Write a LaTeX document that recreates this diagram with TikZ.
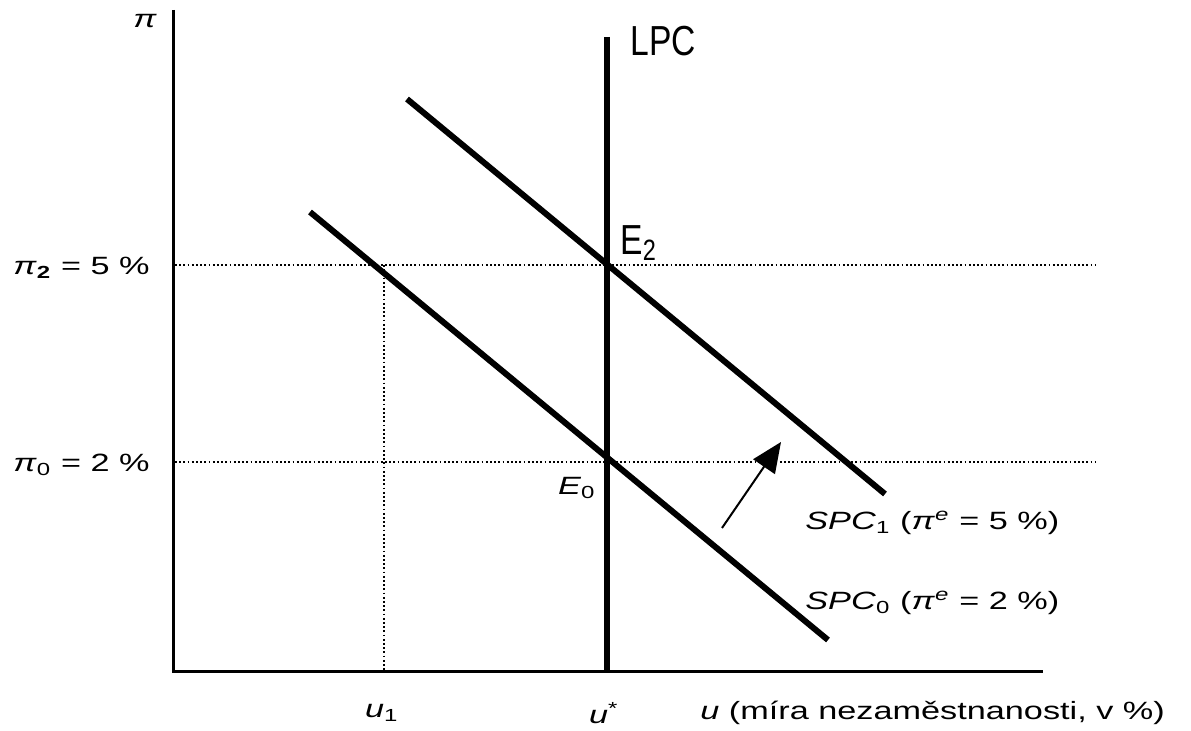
\documentclass[tikz,border=0pt]{standalone}
\usepackage{fontspec}
\setmainfont{Liberation Sans}
\usetikzlibrary{arrows.meta}
\newcommand\wx[1]{\scalebox{1.37}[1]{#1}}
\newcommand\nx[1]{\scalebox{0.8}[1]{#1}}
\newcommand\lo[1]{\textsubscript{#1}}
\newcommand\hi[1]{\textsuperscript{#1}}
\begin{document}
\begin{tikzpicture}[x=0.5pt,y=-0.5pt,
  axis/.style={line width=1.5pt},
  curve/.style={line width=3pt},
  lpcline/.style={line width=2.6pt},
  guide/.style={line width=0.9pt, dash pattern=on 0.9pt off 1.2pt},
  shift arrow/.style={line width=1pt,-{Triangle[length=15pt,width=13pt]}},
  lbl/.style={inner sep=0pt, font=\fontsize{12.5}{14}\selectfont},
  hand/.style={inner sep=0pt, font=\fontsize{21}{24}\selectfont}]
\useasboundingbox (0,0) rectangle (1191,731);
\fill[white] (0,0) rectangle (1191,731);
% points
\coordinate (O) at (173,672);
\coordinate (Ytop) at (173,10);
\coordinate (Xend) at (1043,672);
\coordinate (Ltop) at (607,37);
\coordinate (Lbot) at (607,672);
\coordinate (A1) at (407,99);
\coordinate (B1) at (885,494);
\coordinate (A0) at (310,212);
\coordinate (B0) at (828,640);
\coordinate (P2L) at (175,265);
\coordinate (P2R) at (1095,265);
\coordinate (P0L) at (175,462);
\coordinate (P0R) at (1095,462);
\coordinate (U1T) at (384,265);
\coordinate (U1B) at (384,670);
\coordinate (ArT) at (722,528);
\coordinate (ArH) at (781,442);
% guides
\draw[guide] (P2L) -- (P2R);
\draw[guide] (P0L) -- (P0R);
\draw[guide] (U1T) -- (U1B);
% axes
\draw[axis] (Ytop) -- (O) -- (Xend);
% curves
\draw[lpcline] (Ltop) -- (Lbot);
\draw[curve] (A1) -- (B1);
\draw[curve] (A0) -- (B0);
\draw[shift arrow] (ArT) -- (ArH);
% labels
\node[lbl] (pi) at (145,21) {\wx{\textit{π}}};
\node[lbl, anchor=east] (pi2) at (150,268) {\wx{\textit{π}\lo{\textbf{2}} = 5 \%}};
\node[lbl, anchor=east] (pi0) at (150,465) {\wx{\textit{π}\lo{0} = 2 \%}};
\node[lbl] (E0) at (577,488) {\wx{\textit{E}\lo{0}}};
\node[hand, anchor=west] (E2) at (620,243) {\nx{E\lo{2}}};
\node[hand, anchor=west] (LPC) at (630,41) {\nx{LPC}};
\node[lbl, anchor=west] (spc1) at (805,523) {\wx{\textit{SPC}\lo{1} (\textit{π}\hi{\textit{e}} = 5 \%)}};
\node[lbl, anchor=west] (spc0) at (805,603) {\wx{\textit{SPC}\lo{0} (\textit{π}\hi{\textit{e}} = 2 \%)}};
\node[lbl] (u1) at (382,713) {\wx{\textit{u}\lo{1}}};
\node[lbl] (ustar) at (604,713) {\wx{\textit{u}\hi{*}}};
\node[lbl, anchor=west] (ulab) at (700,713) {\wx{\textit{u} (míra nezaměstnanosti, v \%)}};
\end{tikzpicture}
\end{document}
